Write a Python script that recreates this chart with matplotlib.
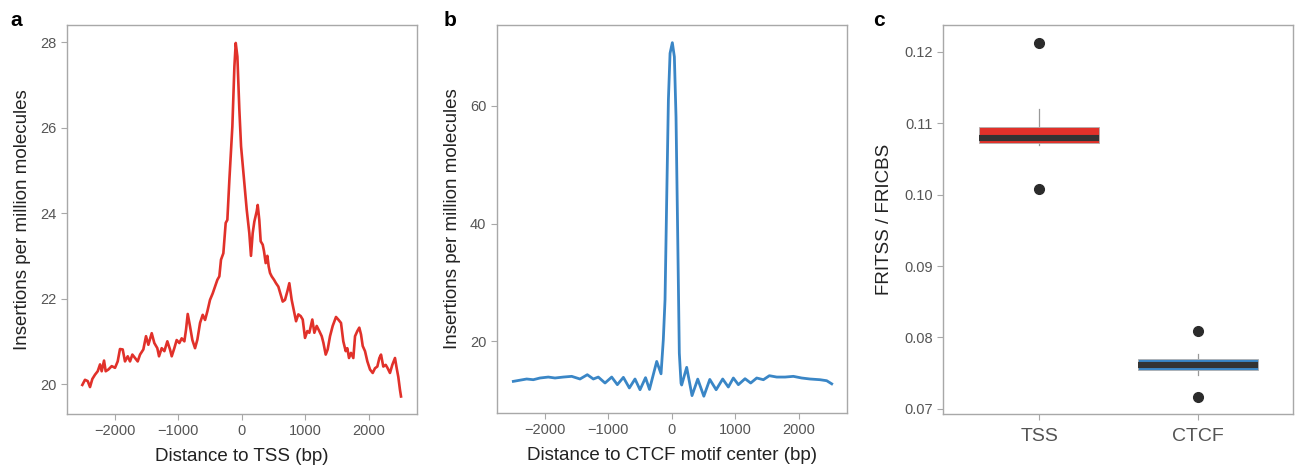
import matplotlib
matplotlib.use("Agg")
import matplotlib.pyplot as plt

plt.rcParams['font.family'] = ['Liberation Sans', 'DejaVu Sans']

# ---- Panel a: TSS profile ----
tss_x = [-2510, -2468, -2425, -2389, -2352, -2310, -2268, -2231, -2205, -2168, -2142, -2100, -2047,
         -1995, -1953, -1917, -1874, -1838, -1795, -1759, -1722, -1680, -1638, -1601, -1549, -1507,
         -1470, -1417, -1376, -1329, -1302, -1260, -1218, -1171, -1129, -1102, -1061, -1024, -982,
         -945, -903, -877, -850, -814, -777, -735, -698, -656, -614, -577, -541, -499, -457, -420,
         -383, -352, -326, -289, -252, -226, -194, -147, -115, -94, -68, -37, -10, 36, 79, 120, 146,
         173, 199, 236, 252, 277, 299, 331, 351, 378, 404, 425, 446, 472, 509, 540, 577, 614, 646,
         682, 719, 750, 787, 824, 856, 892, 929, 961, 997, 1034, 1065, 1112, 1144, 1181, 1222, 1260,
         1286, 1323, 1354, 1391, 1433, 1485, 1521, 1564, 1600, 1638, 1663, 1690, 1721, 1758, 1785,
         1821, 1852, 1879, 1906, 1942, 1979, 2021, 2063, 2099, 2136, 2168, 2194, 2230, 2268, 2299,
         2335, 2372, 2414, 2441, 2466, 2493, 2509]
tss_y = [19.98, 20.10, 20.07, 19.93, 20.12, 20.22, 20.30, 20.46, 20.30, 20.55, 20.30, 20.34, 20.42,
         20.38, 20.53, 20.82, 20.81, 20.53, 20.65, 20.53, 20.69, 20.61, 20.53, 20.69, 20.81, 21.12,
         20.92, 21.19, 20.96, 20.84, 20.65, 20.84, 20.77, 21.00, 20.81, 20.65, 20.84, 21.03, 20.96,
         21.07, 21.00, 21.27, 21.64, 21.35, 21.03, 20.84, 21.04, 21.43, 21.62, 21.50, 21.70, 21.97,
         22.12, 22.28, 22.44, 22.52, 22.91, 23.06, 23.77, 23.84, 24.78, 26.03, 27.43, 27.98, 27.66,
         26.42, 25.56, 24.78, 24.08, 23.53, 23.00, 23.53, 23.80, 24.04, 24.19, 23.84, 23.34, 23.26,
         23.11, 22.83, 23.00, 22.75, 22.60, 22.52, 22.44, 22.36, 22.28, 22.09, 21.93, 21.97, 22.17,
         22.36, 21.97, 21.70, 21.47, 21.63, 21.59, 21.51, 21.08, 21.24, 21.20, 21.51, 21.20, 21.36,
         21.24, 21.12, 20.97, 20.69, 20.81, 21.12, 21.36, 21.57, 21.51, 21.43, 21.00, 20.77, 20.84,
         20.61, 20.73, 20.61, 21.12, 21.24, 21.32, 21.16, 20.89, 20.77, 20.53, 20.34, 20.26, 20.37,
         20.41, 20.61, 20.69, 20.41, 20.45, 20.37, 20.26, 20.45, 20.61, 20.37, 20.17, 19.86, 19.71]

# ---- Panel b: CTCF profile ----
ctcf_x = [-2494, -2284, -2180, -2074, -1943, -1838, -1707, -1575, -1444, -1329, -1234, -1156, -1050,
          -945, -856, -761, -667, -578, -499, -412, -350, -236, -168, -132, -105, -79, -52, -26, 10,
          42, 68, 94, 120, 147, 157, 236, 320, 410, 506, 600, 700, 803, 892, 971, 1050, 1155, 1244,
          1339, 1444, 1538, 1654, 1785, 1916, 2047, 2178, 2336, 2441, 2520]
ctcf_y = [13.22, 13.62, 13.50, 13.79, 13.95, 13.79, 13.95, 14.07, 13.62, 14.35, 13.62, 13.95, 12.94,
          13.95, 12.66, 13.90, 12.10, 13.62, 11.80, 13.85, 11.85, 16.60, 14.50, 20.30, 27.10, 44.00,
          61.00, 68.90, 70.70, 68.30, 58.10, 38.40, 18.00, 12.90, 12.60, 15.60, 10.80, 13.60, 10.70,
          13.55, 11.80, 13.62, 12.26, 13.79, 12.66, 13.67, 12.94, 13.79, 13.50, 14.18, 13.95, 13.95,
          14.07, 13.79, 13.62, 13.50, 13.33, 12.80]

# ---- Panel c: FRITSS / FRICBS boxplots ----
box_labels = ["TSS", "CTCF"]
box_q1 = [0.10718, 0.07545]
box_med = [0.10788, 0.07619]
box_q3 = [0.10941, 0.07699]
box_whislo = [0.10694, 0.07475]
box_whishi = [0.11193, 0.07765]
box_fliers = [[0.12121, 0.10078], [0.08091, 0.07163]]

RED = "#e1312a"
BLUE = "#3a86c6"
SPINE = "#a8a8a8"
TICKC = "#555555"

fig = plt.figure(figsize=(12.95, 4.71), dpi=100)
W, H = 1295, 471

def add_ax(l, t, r, b):
    return fig.add_axes([l / W, 1 - b / H, (r - l) / W, (b - t) / H])

axa = add_ax(66.7, 25, 416.7, 414)
axb = add_ax(496.7, 25, 846.7, 413)
axc = add_ax(943.3, 25, 1293.3, 414.3)

for ax in (axa, axb, axc):
    for s in ax.spines.values():
        s.set_color(SPINE)
        s.set_linewidth(1.0)
    ax.tick_params(axis='both', colors=SPINE, labelcolor=TICKC, labelsize=10.5,
                   length=4, width=0.8, direction='out')

# Panel a
axa.plot(tss_x, tss_y, color=RED, lw=1.9)
axa.set_xlim(-2756, 2756)
axa.set_ylim(19.3, 28.4)
axa.set_xticks([-2000, -1000, 0, 1000, 2000])
axa.set_xticklabels(["\u22122000", "\u22121000", "0", "1000", "2000"])
axa.set_yticks([20, 22, 24, 26, 28])
axa.set_xlabel("Distance to TSS (bp)", fontsize=13.5, color="#222222", labelpad=7)
axa.set_ylabel("Insertions per million molecules", fontsize=13.5, color="#222222", labelpad=6.5)

# Panel b
axb.plot(ctcf_x, ctcf_y, color=BLUE, lw=2.0)
axb.set_xlim(-2756, 2756)
axb.set_ylim(7.85, 73.7)
axb.set_xticks([-2000, -1000, 0, 1000, 2000])
axb.set_xticklabels(["\u22122000", "\u22121000", "0", "1000", "2000"])
axb.set_yticks([20, 40, 60])
axb.set_xlabel("Distance to CTCF motif center (bp)", fontsize=13.5, color="#222222", labelpad=7)
axb.set_ylabel("Insertions per million molecules", fontsize=13.5, color="#222222", labelpad=6.5)

# Panel c
stats = []
for i in range(2):
    stats.append(dict(label=box_labels[i], q1=box_q1[i], med=box_med[i], q3=box_q3[i],
                      whislo=box_whislo[i], whishi=box_whishi[i], fliers=box_fliers[i]))
bp = axc.bxp(stats, positions=[1, 2], widths=0.755, patch_artist=True, showcaps=False,
             boxprops=dict(edgecolor="#b0b0b0", linewidth=0.6),
             medianprops=dict(color="#333333", linewidth=4.4, solid_capstyle='butt'),
             whiskerprops=dict(color="#999999", linewidth=0.9),
             flierprops=dict(marker='o', markerfacecolor="#2b2b2b", markeredgecolor="#2b2b2b",
                             markersize=7))
for patch, c in zip(bp['boxes'], [RED, BLUE]):
    patch.set_facecolor(c)
for w in bp['whiskers']:
    w.set_zorder(1)
axc.set_xlim(0.396, 2.597)
axc.set_ylim(0.06925, 0.12373)
axc.set_yticks([0.07, 0.08, 0.09, 0.10, 0.11, 0.12])
axc.set_yticklabels(["0.07", "0.08", "0.09", "0.10", "0.11", "0.12"])
axc.tick_params(axis='x', labelsize=14, pad=6)
axc.set_ylabel("FRITSS / FRICBS", fontsize=13.5, color="#222222", labelpad=8)

# panel letters
for lbl, xp in (("a", 10), ("b", 444), ("c", 873)):
    fig.text(xp / W, 1 - 20 / H, lbl, fontsize=15, fontweight='bold', va='center', ha='left')

fig.savefig("out.png", dpi=100)
